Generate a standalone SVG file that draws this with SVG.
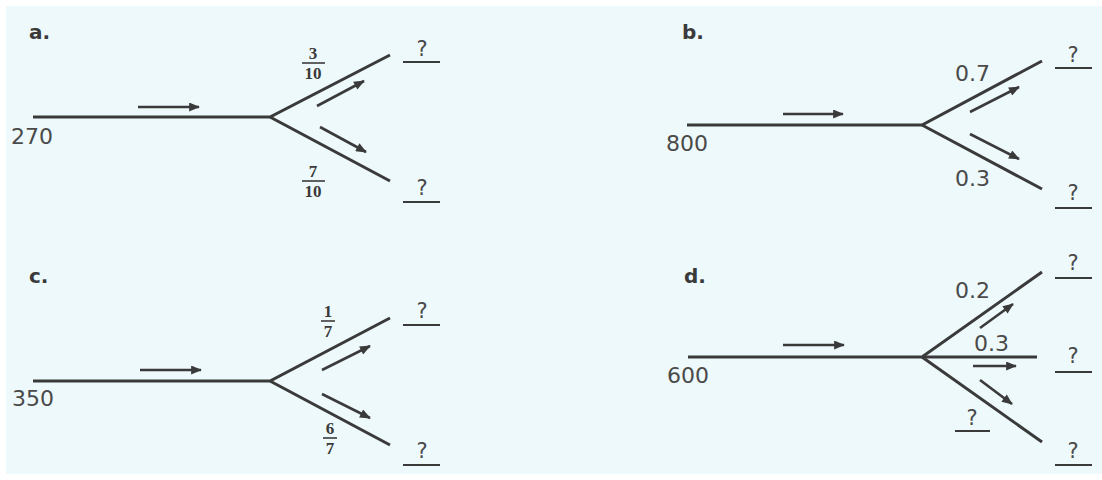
<svg xmlns="http://www.w3.org/2000/svg" width="1102" height="480" viewBox="0 0 1102 480">
  <defs>
    <marker id="ah" viewBox="0 0 12 10" refX="11" refY="5" markerWidth="12" markerHeight="9" markerUnits="userSpaceOnUse" orient="auto">
      <path d="M0,0 L12,5 L0,10 z" fill="#3a3a3a"/>
    </marker>
    <style>
      .bg { fill: #eef9fc; }
      .branch { stroke: #3a3a3a; stroke-width: 3; fill: none; stroke-linecap: butt; stroke-linejoin: miter; }
      .arrow { stroke: #3a3a3a; stroke-width: 2.6; fill: none; marker-end: url(#ah); }
      .uline { stroke: #3a3a3a; stroke-width: 2; }
      .fbar { stroke: #3a3a3a; stroke-width: 1.6; }
      .title { font-family: "DejaVu Sans", sans-serif; font-weight: bold; font-size: 20px; fill: #3a3a3a; }
      .num { font-family: "DejaVu Sans", sans-serif; font-size: 22px; fill: #4a4a4a; }
      .q { font-family: "DejaVu Sans", sans-serif; font-size: 21px; fill: #4a4a4a; text-anchor: middle; }
      .frac { font-family: "Liberation Serif", serif; font-weight: bold; font-size: 17px; fill: #3a3a3a; text-anchor: middle; }
    </style>
  </defs>

  <rect x="0" y="0" width="1102" height="480" fill="#ffffff"/>
  <rect class="bg" x="6" y="6" width="1096" height="468"/>

  <g id="connectors">
    <!-- panel a -->
    <polyline class="branch" points="33,117 270,117 390,55"/>
    <line class="branch" x1="270" y1="117" x2="390" y2="181"/>
    <line class="arrow" x1="138" y1="107" x2="199" y2="107"/>
    <line class="arrow" x1="317" y1="106" x2="364" y2="81"/>
    <line class="arrow" x1="320" y1="127" x2="366" y2="152"/>
    <!-- panel b -->
    <polyline class="branch" points="687,125 922,125 1042,61"/>
    <line class="branch" x1="922" y1="125" x2="1042" y2="189"/>
    <line class="arrow" x1="783" y1="114" x2="843" y2="114"/>
    <line class="arrow" x1="970" y1="112" x2="1019" y2="87"/>
    <line class="arrow" x1="970" y1="134" x2="1019" y2="159"/>
    <!-- panel c -->
    <polyline class="branch" points="33,381 270,381 390,318"/>
    <line class="branch" x1="270" y1="381" x2="390" y2="445"/>
    <line class="arrow" x1="140" y1="370" x2="201" y2="370"/>
    <line class="arrow" x1="322" y1="370" x2="370" y2="346"/>
    <line class="arrow" x1="322" y1="394" x2="370" y2="418"/>
    <!-- panel d -->
    <polyline class="branch" points="688,357 922,357 1042,272"/>
    <line class="branch" x1="922" y1="357" x2="1037" y2="357"/>
    <line class="branch" x1="922" y1="357" x2="1042" y2="442"/>
    <line class="arrow" x1="783" y1="345" x2="844" y2="345"/>
    <line class="arrow" x1="980" y1="328" x2="1013" y2="304"/>
    <line class="arrow" x1="973" y1="366" x2="1016" y2="366"/>
    <line class="arrow" x1="980" y1="380" x2="1012" y2="404"/>
  </g>

  <g id="panel-a">
    <text class="title" x="29" y="39">a.</text>
    <g id="a-source"><text class="num" x="11" y="144">270</text></g>
    <g id="a-frac-top">
      <text class="frac" x="313" y="59">3</text>
      <line class="fbar" x1="302" y1="63" x2="325" y2="63"/>
      <text class="frac" x="313" y="79">10</text>
    </g>
    <g id="a-frac-bottom">
      <text class="frac" x="313" y="177">7</text>
      <line class="fbar" x1="302" y1="181" x2="325" y2="181"/>
      <text class="frac" x="313" y="197">10</text>
    </g>
    <g id="a-out-top">
      <text class="q" x="422" y="56">?</text>
      <line class="uline" x1="403" y1="62" x2="440" y2="62"/>
    </g>
    <g id="a-out-bottom">
      <text class="q" x="422" y="195">?</text>
      <line class="uline" x1="403" y1="202" x2="440" y2="202"/>
    </g>
  </g>

  <g id="panel-b">
    <text class="title" x="682" y="39">b.</text>
    <g id="b-source"><text class="num" x="666" y="151">800</text></g>
    <g id="b-label-top"><text class="num" x="955" y="81">0.7</text></g>
    <g id="b-label-bottom"><text class="num" x="955" y="186">0.3</text></g>
    <g id="b-out-top">
      <text class="q" x="1073" y="62">?</text>
      <line class="uline" x1="1055" y1="68" x2="1092" y2="68"/>
    </g>
    <g id="b-out-bottom">
      <text class="q" x="1073" y="200">?</text>
      <line class="uline" x1="1055" y1="208" x2="1092" y2="208"/>
    </g>
  </g>

  <g id="panel-c">
    <text class="title" x="29" y="283">c.</text>
    <g id="c-source"><text class="num" x="12" y="406">350</text></g>
    <g id="c-frac-top">
      <text class="frac" x="328" y="317">1</text>
      <line class="fbar" x1="321" y1="321" x2="335" y2="321"/>
      <text class="frac" x="328" y="337">7</text>
    </g>
    <g id="c-frac-bottom">
      <text class="frac" x="330" y="434">6</text>
      <line class="fbar" x1="323" y1="438" x2="337" y2="438"/>
      <text class="frac" x="330" y="454">7</text>
    </g>
    <g id="c-out-top">
      <text class="q" x="422" y="318">?</text>
      <line class="uline" x1="403" y1="325" x2="440" y2="325"/>
    </g>
    <g id="c-out-bottom">
      <text class="q" x="422" y="458">?</text>
      <line class="uline" x1="403" y1="465" x2="440" y2="465"/>
    </g>
  </g>

  <g id="panel-d">
    <text class="title" x="684" y="283">d.</text>
    <g id="d-source"><text class="num" x="667" y="383">600</text></g>
    <g id="d-label-top"><text class="num" x="955" y="298">0.2</text></g>
    <g id="d-label-mid"><text class="num" x="974" y="351">0.3</text></g>
    <g id="d-out-top">
      <text class="q" x="1073" y="270">?</text>
      <line class="uline" x1="1055" y1="278" x2="1092" y2="278"/>
    </g>
    <g id="d-out-mid">
      <text class="q" x="1073" y="363">?</text>
      <line class="uline" x1="1055" y1="372" x2="1092" y2="372"/>
    </g>
    <g id="d-label-bottom">
      <text class="q" x="972" y="425">?</text>
      <line class="uline" x1="955" y1="431" x2="990" y2="431"/>
    </g>
    <g id="d-out-bottom">
      <text class="q" x="1073" y="458">?</text>
      <line class="uline" x1="1055" y1="465" x2="1092" y2="465"/>
    </g>
  </g>
</svg>
